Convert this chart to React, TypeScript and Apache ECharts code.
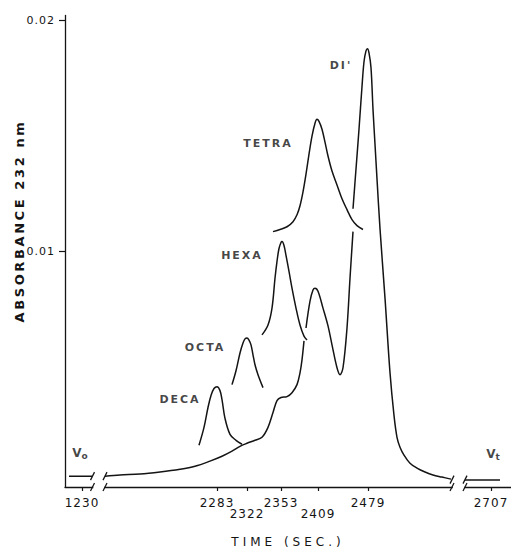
import React, { useEffect, useRef } from 'react';
import * as echarts from 'echarts';

// ---------- data (x = position along the chart paper, y = absorbance at 232 nm) ----------
const tickPositions = [17, 152, 182, 216, 253, 303, 426];
const tickLabels = ['1230', '2283', '2322', '2353', '2409', '2479', '2707'];
const lowerRowLabels = ['2322', '2409'];

const yTickValues = [0.01, 0.02];
const yTickLabels = ['0.01', '0.02'];

// void-volume marker trace
const voidX = [4, 27];
const voidY = [0.00027, 0.00027];

// main trace, first pen stroke (baseline and shoulders)
const mainAX = [40, 55, 75, 95, 115, 130, 145, 157, 167, 175, 182, 190, 197, 203, 208, 212, 216, 222, 227, 232, 235, 237, 239];
const mainAY = [0.00027, 0.00032, 0.00036, 0.00045, 0.00057, 0.0007, 0.00092, 0.00113, 0.00135, 0.00156, 0.00169, 0.00182, 0.00195, 0.00238, 0.00302, 0.00354, 0.00367, 0.00371, 0.00388, 0.00423, 0.00474, 0.0053, 0.00612];

// main trace, second stroke (peak and valley before DI)
const mainBX = [241, 245, 248, 250, 253, 258, 263, 267, 272, 275, 278, 282, 285, 288];
const mainBY = [0.00668, 0.00784, 0.00832, 0.0084, 0.00827, 0.00754, 0.00677, 0.00595, 0.00496, 0.00466, 0.00496, 0.00668, 0.00883, 0.01085];

// DI peak and tail
const diX = [288, 291, 294, 297, 299, 301, 302.5, 304, 306, 308, 310, 312, 315, 320, 325, 329, 332, 335, 339, 345, 352, 360, 368, 377, 386];
const diY = [0.01184, 0.01356, 0.01528, 0.01713, 0.0182, 0.01867, 0.01876, 0.01858, 0.01794, 0.01614, 0.01463, 0.01313, 0.01098, 0.00797, 0.00475, 0.00290, 0.00195, 0.00152, 0.00118, 0.00083, 0.00062, 0.00045, 0.00032, 0.00023, 0.00014];

// offset traces of the individual oligomers
const decaX = [134, 139, 143, 146, 149, 152, 155, 157, 160, 165, 171, 177];
const decaY = [0.00161, 0.00238, 0.00324, 0.00376, 0.00406, 0.00414, 0.00397, 0.00358, 0.00277, 0.00208, 0.00182, 0.00165];

const octaX = [167, 171, 175, 178, 180, 182, 184, 186, 188, 190, 193, 198];
const octaY = [0.00423, 0.00483, 0.0056, 0.00603, 0.00621, 0.00625, 0.00616, 0.00595, 0.00552, 0.00509, 0.00466, 0.0041];

const hexaX = [197, 203, 207, 210, 212, 214, 216, 217, 219, 221, 224, 227, 231, 235, 239, 242];
const hexaY = [0.00638, 0.00681, 0.00754, 0.00883, 0.00956, 0.01012, 0.01038, 0.01042, 0.01025, 0.00982, 0.00913, 0.0084, 0.00754, 0.00681, 0.00633, 0.00616];

const tetraX = [208, 215, 222, 228, 232, 235, 238, 241, 244, 247, 250, 252, 254, 257, 260, 263, 267, 272, 277, 282, 287, 292, 298];
const tetraY = [0.01085, 0.01094, 0.01106, 0.01128, 0.01158, 0.01197, 0.01257, 0.01334, 0.0142, 0.01498, 0.01554, 0.01571, 0.01562, 0.01528, 0.01472, 0.01412, 0.01347, 0.01287, 0.01227, 0.0118, 0.01137, 0.01111, 0.01094];

// total-volume marker trace
const totalX = [400, 435];
const totalY = [0.0001, 0.0001];

// axis / trace breaks: [start, end, trace level]
const breakStart = [27.5, 387];
const breakEnd = [40, 400];
const breakLevel = [0.00027, 0.00012];

// peak annotations
const peakNames = ['DECA', 'OCTA', 'HEXA', 'TETRA', "DI'"];
const peakLabelX = [115, 140, 177, 203, 276];
const peakLabelY = [0.00358, 0.00582, 0.00982, 0.01468, 0.01803];

const volumeNames = ['o', 't'];
const volumeLabelX = [15, 428];
const volumeLabelY = [0.00127, 0.00122];

const X_MIN = 0;
const X_MAX = 446;
const Y_MIN = -0.0002;
const Y_MAX = 0.0202;

const zip = (xs: number[], ys: number[]) => xs.map((x, i) => [x, ys[i]]);

const INK = '#141414';
const F_TICK = 'DejaVu Sans, lsA';
const F_PEAK = 'DejaVu Sans, lsB';
const F_XNAME = 'DejaVu Sans, lsC';
const F_YNAME = 'DejaVu Sans, lsD';

const css = `
.chromChart text[style*="lsA"]{letter-spacing:1px}
.chromChart text[style*="lsB"]{letter-spacing:2px}
.chromChart text[style*="lsC"]{letter-spacing:4px}
.chromChart text[style*="lsD"]{letter-spacing:2.6px}
`;

export default function App() {
  const ref = useRef<HTMLDivElement>(null);

  useEffect(() => {
    if (!ref.current) return;
    const chart = echarts.init(ref.current, undefined, { renderer: 'svg' });

    const labelFor = (v: number) => {
      const i = tickPositions.findIndex((p) => Math.abs(p - v) < 1e-6);
      return i >= 0 ? tickLabels[i] : '';
    };
    const upperPos = tickPositions.filter((_, i) => !lowerRowLabels.includes(tickLabels[i]));
    const lowerPos = tickPositions.filter((_, i) => lowerRowLabels.includes(tickLabels[i]));

    const trace = (name: string, xs: number[], ys: number[]) => ({
      type: 'line',
      name,
      data: zip(xs, ys),
      smooth: 0.35,
      symbol: 'none',
      silent: true,
      z: 3,
      lineStyle: { color: INK, width: 1.5 },
    });

    const tickLabelStyle = { fontSize: 12, fontFamily: F_TICK, color: INK };

    const option: any = {
      animation: false,
      backgroundColor: '#ffffff',
      grid: { left: 65, right: 0, top: 15.5, bottom: 63, containLabel: false },
      xAxis: [
        {
          type: 'value',
          min: X_MIN,
          max: X_MAX,
          position: 'bottom',
          axisLine: { show: true, onZero: false, lineStyle: { color: INK, width: 1.3 } },
          axisTick: { show: true, customValues: tickPositions, length: 4, inside: false, lineStyle: { color: INK, width: 1.2 } },
          axisLabel: { show: true, customValues: upperPos, formatter: labelFor, margin: 10, ...tickLabelStyle },
          splitLine: { show: false },
          name: 'TIME (SEC.)',
          nameLocation: 'middle',
          nameGap: 49,
          nameTextStyle: { fontSize: 12, fontFamily: F_XNAME, color: INK },
        },
        {
          type: 'value',
          min: X_MIN,
          max: X_MAX,
          position: 'bottom',
          axisLine: { show: false, onZero: false },
          axisTick: { show: false },
          axisLabel: { show: true, customValues: lowerPos, formatter: labelFor, margin: 21, ...tickLabelStyle },
          splitLine: { show: false },
        },
      ],
      yAxis: {
        type: 'value',
        min: Y_MIN,
        max: Y_MAX,
        axisLine: { show: true, onZero: false, lineStyle: { color: INK, width: 1.3 } },
        axisTick: { show: true, customValues: yTickValues, length: 6, inside: false, lineStyle: { color: INK, width: 1.2 } },
        axisLabel: {
          show: true,
          customValues: yTickValues,
          formatter: (v: number) => {
            const i = yTickValues.findIndex((t) => Math.abs(t - v) < 1e-9);
            return i >= 0 ? yTickLabels[i] : '';
          },
          margin: 10,
          fontSize: 11,
          fontFamily: F_TICK,
          color: INK,
        },
        splitLine: { show: false },
      },
      graphic: [
        {
          type: 'text',
          x: 19,
          y: 221,
          rotation: Math.PI / 2,
          style: {
            text: 'ABSORBANCE 232 nm',
            align: 'center',
            verticalAlign: 'middle',
            fontSize: 13,
            fontWeight: 'bold',
            fontFamily: F_YNAME,
            fill: INK,
          },
        },
      ],
      series: [
        trace('void', voidX, voidY),
        trace('mainA', mainAX, mainAY),
        trace('mainB', mainBX, mainBY),
        trace('DI', diX, diY),
        trace('DECA', decaX, decaY),
        trace('OCTA', octaX, octaY),
        trace('HEXA', hexaX, hexaY),
        trace('TETRA', tetraX, tetraY),
        trace('total', totalX, totalY),
        {
          type: 'custom',
          name: 'breaks',
          clip: false,
          silent: true,
          z: 5,
          encode: { x: [0, 1], y: 2 },
          data: breakStart.map((s, i) => [s, breakEnd[i], breakLevel[i]]),
          renderItem: (_params: any, api: any) => {
            const xs = api.value(0);
            const xe = api.value(1);
            const ty = api.value(2);
            const aS = api.coord([xs, Y_MIN]);
            const aE = api.coord([xe, Y_MIN]);
            const tS = api.coord([xs, ty]);
            const tE = api.coord([xe, ty]);
            const slash = (p: number[]) => ({
              type: 'line',
              shape: { x1: p[0] - 2, y1: p[1] + 4, x2: p[0] + 2, y2: p[1] - 4 },
              style: { stroke: INK, lineWidth: 1.3 },
            });
            return {
              type: 'group',
              children: [
                { type: 'rect', shape: { x: aS[0] + 0.8, y: aS[1] - 2.5, width: aE[0] - aS[0] - 1.6, height: 5 }, style: { fill: '#ffffff' } },
                slash(aS),
                slash(aE),
                slash(tS),
                slash(tE),
              ],
            };
          },
        },
        {
          type: 'scatter',
          name: 'peakLabels',
          silent: true,
          symbolSize: 1,
          itemStyle: { color: 'rgba(0,0,0,0)' },
          z: 6,
          data: peakNames.map((n, i) => ({ name: n, value: [peakLabelX[i], peakLabelY[i]] })),
          label: {
            show: true,
            position: 'inside',
            formatter: (p: any) => p.name,
            fontSize: 11,
            fontWeight: 'bold',
            fontFamily: F_PEAK,
            color: INK,
          },
        },
        {
          type: 'scatter',
          name: 'volumeLabels',
          silent: true,
          symbolSize: 1,
          itemStyle: { color: 'rgba(0,0,0,0)' },
          z: 6,
          data: volumeNames.map((n, i) => ({ name: n, value: [volumeLabelX[i], volumeLabelY[i]] })),
          label: {
            show: true,
            position: 'inside',
            formatter: (p: any) => `{v|V}{s|${p.name}}`,
            rich: {
              v: { fontSize: 12, fontWeight: 'bold', fontFamily: 'DejaVu Sans', color: INK },
              s: { fontSize: 9, fontWeight: 'bold', fontFamily: 'DejaVu Sans', color: INK, padding: [5, 0, 0, 0] },
            },
          },
        },
      ],
    };

    chart.setOption(option);
    return () => chart.dispose();
  }, []);

  return (
    <>
      <style>{css}</style>
      <div
        ref={ref}
        className="chromChart"
        style={{ position: 'fixed', left: 0, top: 0, width: 511, height: 553, background: '#ffffff' }}
      />
    </>
  );
}
